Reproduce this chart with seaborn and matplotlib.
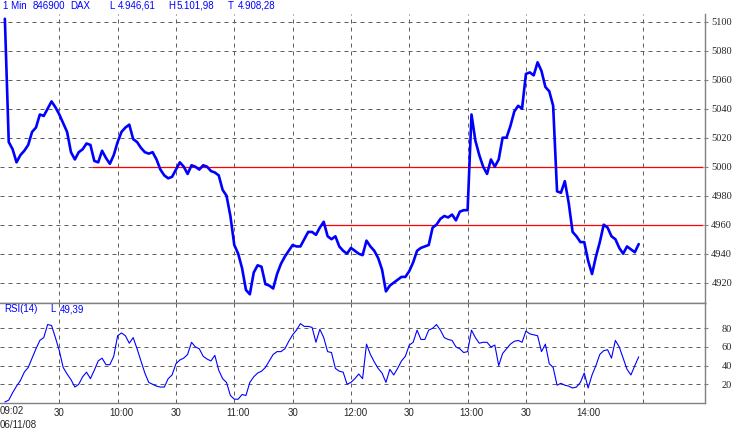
import matplotlib
matplotlib.use("Agg")
import matplotlib.pyplot as plt
import matplotlib.transforms as mtransforms
import seaborn as sns

# minutes after 09:00, one reading every two minutes (09:02 .. 14:28)
minutes = list(range(2, 330, 2))

price = [
    5102, 5017, 5012, 5003, 5008, 5011, 5015, 5024, 5027, 5036,
    5035, 5040, 5045, 5041, 5036, 5030, 5024, 5010, 5005, 5010,
    5012, 5016, 5015, 5004, 5003, 5011, 5006, 5002, 5008, 5017,
    5024, 5027, 5029, 5019, 5017, 5013, 5010, 5009, 5010, 5005,
    4998, 4994, 4992, 4993, 4998, 5003, 5000, 4995, 5001, 5000,
    4998, 5001, 5000, 4997, 4996, 4994, 4984, 4980, 4966, 4946,
    4940, 4930, 4915, 4912, 4927, 4932, 4931, 4919, 4918, 4916,
    4926, 4933, 4938, 4942, 4946, 4945, 4945, 4950, 4955, 4955,
    4953, 4958, 4962, 4952, 4950, 4952, 4945, 4942, 4940, 4944,
    4942, 4940, 4939, 4949, 4945, 4942, 4937, 4929, 4914, 4918,
    4920, 4922, 4924, 4924, 4928, 4934, 4942, 4944, 4945, 4946,
    4958, 4960, 4964, 4966, 4965, 4967, 4963, 4969, 4970, 4970,
    5036, 5018, 5008, 5000, 4995, 5005, 5000, 5005, 5020, 5020,
    5028, 5038, 5042, 5040, 5064, 5065, 5063, 5072, 5066, 5055,
    5052, 5042, 4983, 4982, 4990, 4975, 4955, 4952, 4948, 4948,
    4935, 4926, 4938, 4948, 4960, 4958, 4952, 4950, 4944, 4940,
    4945, 4943, 4941, 4946.61,
]

rsi = [
    1, 3, 11, 18, 24, 33, 38, 48, 58, 67,
    70, 84, 83, 70, 56, 38, 31, 25, 17, 20,
    28, 33, 26, 35, 45, 48, 41, 41, 50, 72,
    75, 72, 64, 70, 58, 45, 32, 22, 20, 18,
    17, 17, 26, 30, 42, 46, 48, 52, 65, 60,
    58, 50, 47, 45, 51, 35, 26, 22, 8, 4,
    4, 9, 8, 22, 28, 32, 34, 38, 45, 52,
    55, 55, 58, 66, 73, 78, 85, 82, 82, 81,
    65, 79, 70, 55, 54, 37, 34, 33, 20, 22,
    26, 31, 26, 63, 52, 44, 37, 32, 22, 36,
    30, 37, 45, 50, 62, 65, 78, 68, 68, 78,
    80, 84, 78, 70, 68, 67, 60, 58, 54, 55,
    78, 70, 64, 65, 65, 60, 62, 40, 53, 58,
    63, 66, 67, 65, 77, 74, 73, 72, 55, 63,
    42, 38, 19, 21, 19, 18, 16, 17, 22, 32,
    16, 30, 40, 52, 56, 57, 48, 67, 60, 48,
    36, 30, 40, 49.39,
]

# horizontal red levels and the minute they start from
levels = [5000, 4960]
level_start = [47, 165]

price_ticks = [4920, 4940, 4960, 4980, 5000, 5020, 5040, 5060, 5080, 5100]
rsi_ticks = [20, 40, 60, 80]
grid_minutes = [30, 60, 90, 120, 150, 180, 210, 240, 270, 300, 330]
time_labels = ["30", "10:00", "30", "11:00", "30", "12:00", "30", "13:00", "30", "14:00", ""]

W, H = 736, 433
BLUE = "#0000ff"
GRID = "#606060"
FRAME = "#808080"
XMIN, XMAX = -0.5, 362.1


def fx(px):
    return px / W


def fy(py):
    return 1 - py / H


sns.set_style("white")
plt.rcParams["font.family"] = ["Liberation Sans", "DejaVu Sans"]

fig = plt.figure(figsize=(W / 100, H / 100), dpi=100)
ax = fig.add_axes([0, fy(303), fx(705), (303 - 14) / H])
ax_r = fig.add_axes([0, fy(403.3), fx(705), 100.3 / H])

grid_kw = dict(color=GRID, lw=0.72, linestyle=(0, (4, 4)))

for a in (ax, ax_r):
    a.set_xlim(XMIN, XMAX)
    a.set_xticks(grid_minutes)
    a.grid(True, **grid_kw)
    a.yaxis.tick_right()
    a.spines["left"].set_visible(False)
    for side in ("right", "bottom", "top"):
        a.spines[side].set_color(FRAME)
        a.spines[side].set_linewidth(1.0)
    a.tick_params(axis="y", length=2.2, color=FRAME, pad=17.3, labelsize=7.5,
                  labelfontfamily="Liberation Serif")
ax.spines["top"].set_visible(False)

# price panel
for lvl, start in zip(levels, level_start):
    ax.hlines(lvl, start, 361, color="#ff0000", lw=0.9, zorder=3)
sns.lineplot(x=minutes, y=price, ax=ax, color=BLUE, lw=1.9, zorder=4)
ax.set_ylim(4906, 5105.3)
ax.set_yticks(price_ticks)
ax.set_xticklabels([])
ax.tick_params(axis="x", length=0)
ax.set_xlabel("")
ax.set_ylabel("")

# RSI panel
sns.lineplot(x=minutes, y=rsi, ax=ax_r, color=BLUE, lw=0.8, zorder=4)
ax_r.set_ylim(-0.4, 107.1)
ax_r.set_yticks(rsi_ticks)
ax_r.set_xticklabels(time_labels, fontsize=7)
ax_r.tick_params(axis="x", length=2.2, color=FRAME, direction="out", pad=1.0)
ax_r.set_xlabel("")
ax_r.set_ylabel("")

# hour labels sit a little right of their gridline
shift = mtransforms.ScaledTranslation(4 / 100, 0, fig.dpi_scale_trans)
for lbl in ax_r.get_xticklabels():
    if ":" in lbl.get_text():
        lbl.set_transform(lbl.get_transform() + shift)

for a in (ax, ax_r):
    for lbl in a.get_yticklabels():
        lbl.set_ha("right")

# header texts
header = [(3, "1 Min"), (33, "846900"), (70, "DAX"), (109, "L"), (118, "4.946,61"),
          (168, "H"), (177, "5.101,98"), (228, "T"), (238, "4.908,28")]
for x, s in header:
    fig.text(fx(x), fy(6), s, color=BLUE, fontsize=7, ha="left", va="center")

for x, s in [(4, "RSI(14)"), (50, "L"), (60, "49,39")]:
    fig.text(fx(x), fy(309), s, color=BLUE, fontsize=7, ha="left", va="center")

fig.text(fx(0), fy(411), "09:02", fontsize=7, ha="left", va="center")
fig.text(fx(0), fy(425), "06/11/08", fontsize=7, ha="left", va="center")

fig.savefig("out.png", dpi=100)
plt.close(fig)
